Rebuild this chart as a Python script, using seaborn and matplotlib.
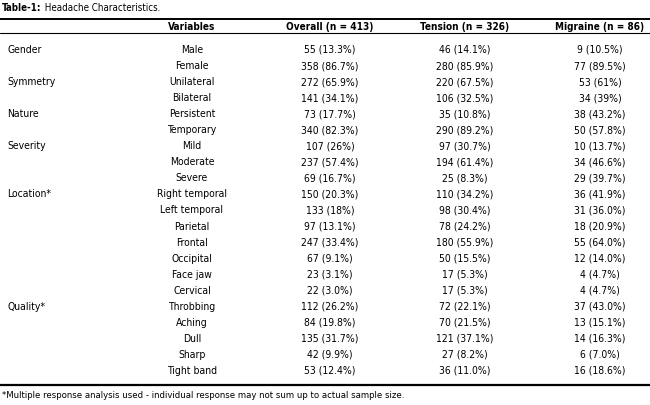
import matplotlib
matplotlib.use("Agg")
import matplotlib.pyplot as plt
import seaborn as sns

# table contents
groups = ["Gender", "", "Symmetry", "", "Nature", "", "Severity", "", "",
          "Location*", "", "", "", "", "", "",
          "Quality*", "", "", "", ""]
variables = ["Male", "Female", "Unilateral", "Bilateral", "Persistent", "Temporary",
             "Mild", "Moderate", "Severe",
             "Right temporal", "Left temporal", "Parietal", "Frontal", "Occipital",
             "Face jaw", "Cervical",
             "Throbbing", "Aching", "Dull", "Sharp", "Tight band"]
overall_n = [55, 358, 272, 141, 73, 340, 107, 237, 69, 150, 133, 97, 247, 67, 23, 22,
             112, 84, 135, 42, 53]
overall_pct = ["13.3%", "86.7%", "65.9%", "34.1%", "17.7%", "82.3%", "26%", "57.4%", "16.7%",
               "20.3%", "18%", "13.1%", "33.4%", "9.1%", "3.1%", "3.0%",
               "26.2%", "19.8%", "31.7%", "9.9%", "12.4%"]
tension_n = [46, 280, 220, 106, 35, 290, 97, 194, 25, 110, 98, 78, 180, 50, 17, 17,
             72, 70, 121, 27, 36]
tension_pct = ["14.1%", "85.9%", "67.5%", "32.5%", "10.8%", "89.2%", "30.7%", "61.4%", "8.3%",
               "34.2%", "30.4%", "24.2%", "55.9%", "15.5%", "5.3%", "5.3%",
               "22.1%", "21.5%", "37.1%", "8.2%", "11.0%"]
migraine_n = [9, 77, 53, 34, 38, 50, 10, 34, 29, 36, 31, 18, 55, 12, 4, 4,
              37, 13, 14, 6, 16]
migraine_pct = ["10.5%", "89.5%", "61%", "39%", "43.2%", "57.8%", "13.7%", "46.6%", "39.7%",
                "41.9%", "36.0%", "20.9%", "64.0%", "14.0%", "4.7%", "4.7%",
                "43.0%", "15.1%", "16.3%", "7.0%", "18.6%"]
headers = ["Variables", "Overall (n = 413)", "Tension (n = 326)", "Migraine (n = 86)"]
title_bold = "Table-1:"
title_rest = " Headache Characteristics."
footnote = "*Multiple response analysis used - individual response may not sum up to actual sample size."

sns.set_theme(style="white")
plt.rcParams["font.family"] = ["DejaVu Sans Condensed", "DejaVu Sans"]
plt.rcParams["font.stretch"] = "condensed"

fig = plt.figure(figsize=(6.5, 4.06), dpi=100)
ax = fig.add_axes([0, 0, 1, 1])
ax.set_xlim(0, 650)
ax.set_ylim(406, 0)
ax.axis("off")

fs = 7.5
ink = "black"
col_x = [192, 330, 465, 600]
row0, step = 50, 16.05

# title
t = ax.text(2, 8, title_bold, fontsize=7, fontweight="bold", va="center", ha="left", color=ink)
fig.canvas.draw()
bb = t.get_window_extent().transformed(ax.transData.inverted())
ax.text(bb.x1, 8, title_rest, fontsize=7, va="center", ha="left", color=ink)

# rules
ax.plot([0, 650], [19.5, 19.5], color=ink, lw=1.4)
ax.plot([0, 650], [34, 34], color=ink, lw=0.8)
ax.plot([0, 650], [386, 386], color=ink, lw=1.6)

for x, h in zip(col_x, headers):
    ax.text(x, 26.5, h, fontsize=7.2, fontweight="bold", ha="center", va="center", color=ink)

for i, v in enumerate(variables):
    y = row0 + i * step
    if groups[i]:
        ax.text(7, y, groups[i], fontsize=fs, ha="left", va="center", color=ink)
    ax.text(col_x[0], y, v, fontsize=fs, ha="center", va="center", color=ink)
    ax.text(col_x[1], y, f"{overall_n[i]} ({overall_pct[i]})", fontsize=fs, ha="center", va="center", color=ink)
    ax.text(col_x[2], y, f"{tension_n[i]} ({tension_pct[i]})", fontsize=fs, ha="center", va="center", color=ink)
    ax.text(col_x[3], y, f"{migraine_n[i]} ({migraine_pct[i]})", fontsize=fs, ha="center", va="center", color=ink)

ax.text(2, 396, footnote, fontsize=6.8, ha="left", va="center", color=ink)

fig.savefig("out.png", dpi=100)
